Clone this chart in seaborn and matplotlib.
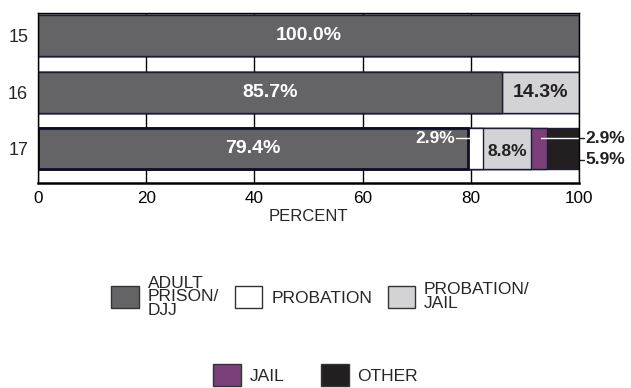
import numpy as np
import pandas as pd
import seaborn as sns
import matplotlib.pyplot as plt
from matplotlib.patches import Patch

ages = ["15", "16", "17"]
categories = ["ADULT\nPRISON/\nDJJ", "PROBATION", "PROBATION/\nJAIL", "JAIL", "OTHER"]
adult = [100.0, 85.7, 79.4]
probation = [0.0, 0.0, 2.9]
prob_jail = [0.0, 14.3, 8.8]
jail = [0.0, 0.0, 2.9]
other = [0.0, 0.0, 5.9]
colors = ["#646466", "#ffffff", "#d3d3d5", "#7b4079", "#231f20"]

sns.set_style("white")
plt.rcParams['font.family'] = ['Liberation Sans', 'DejaVu Sans']

series = [adult, probation, prob_jail, jail, other]
cum = np.cumsum(np.array(series), axis=0)

fig = plt.figure(figsize=(6.31, 3.88), dpi=100)
ax = fig.add_axes([0.060, 0.528, 0.858, 0.438])

# stacked bars: draw cumulative totals from longest to shortest
for i in range(len(series) - 1, -1, -1):
    df = pd.DataFrame({"age": ages, "value": cum[i]})
    sns.barplot(data=df, x="value", y="age", orient="h", color=colors[i],
                width=0.73, edgecolor="#1c1c36", linewidth=1.0,
                saturation=1, ax=ax)
# heavier outline on the age 17 adult segment
ax.containers[-1][2].set_linewidth(2.0)
ax.containers[-1][2].set_edgecolor("#0d0d26")

ax.set_xlim(0, 100)
ax.set_ylim(2.615, -0.40)
ax.set_xticks([0, 20, 40, 60, 80, 100])
ax.set_axisbelow(True)
ax.grid(axis="x", color="black", lw=1.0)
ax.grid(axis="y", visible=False)
for s in ax.spines.values():
    s.set_color("black")
    s.set_linewidth(1.0)
ax.spines["bottom"].set_linewidth(1.8)
ax.tick_params(axis="x", direction="out", length=4, width=1, pad=1.5,
               labelsize=12.3, colors="black")
ax.tick_params(axis="y", length=0, labelsize=13, pad=7)
ax.set_xlabel("PERCENT", fontsize=12, labelpad=2)
ax.set_ylabel("")

big = dict(fontsize=14, fontweight="bold", va="center")
small = dict(fontsize=12.5, fontweight="bold", va="center")
ax.text(50, 0, "100.0%", ha="center", color="white", **big)
ax.text(adult[1] / 2, 1, "85.7%", ha="center", color="white", **big)
ax.text(adult[1] + prob_jail[1] / 2, 1, "14.3%", ha="center", color="#231f20", **big)
ax.text(adult[2] / 2, 2, "79.4%", ha="center", color="white", **big)
ax.text(cum[1][2] + prob_jail[2] / 2, 2.05, "8.8%", ha="center", color="#231f20", **small)
ax.text(77.0, 1.82, "2.9%", ha="right", color="white", **small)
ax.plot([77.3, 80.2], [1.82, 1.82], color="white", lw=1, clip_on=False)
ax.plot([93.0, 100.9], [1.82, 1.82], color="white", lw=1, clip_on=False)
ax.plot([100.0, 100.9], [1.82, 1.82], color="#231f20", lw=1, clip_on=False)
ax.plot([100.0, 100.9], [2.2, 2.2], color="#231f20", lw=1, clip_on=False)
ax.text(101.1, 1.82, "2.9%", ha="left", color="#231f20", clip_on=False, **small)
ax.text(101.1, 2.2, "5.9%", ha="left", color="#231f20", clip_on=False, **small)

handles = [Patch(facecolor=c, edgecolor="#333333", lw=1) for c in colors]
leg1 = fig.legend(handles[:3], categories[:3], loc="center", ncol=3,
                  bbox_to_anchor=(0.508, 0.235), frameon=False, fontsize=12.5,
                  handlelength=1.6, handleheight=1.6, handletextpad=0.5,
                  columnspacing=0.9)
for t in leg1.get_texts():
    t.set_linespacing(0.9)
leg2 = fig.legend(handles[3:], categories[3:], loc="center", ncol=2,
                  bbox_to_anchor=(0.5, 0.033), frameon=False, fontsize=12.5,
                  handlelength=1.6, handleheight=1.6, handletextpad=0.5,
                  columnspacing=2.1)

fig.savefig("out.png", dpi=100)
